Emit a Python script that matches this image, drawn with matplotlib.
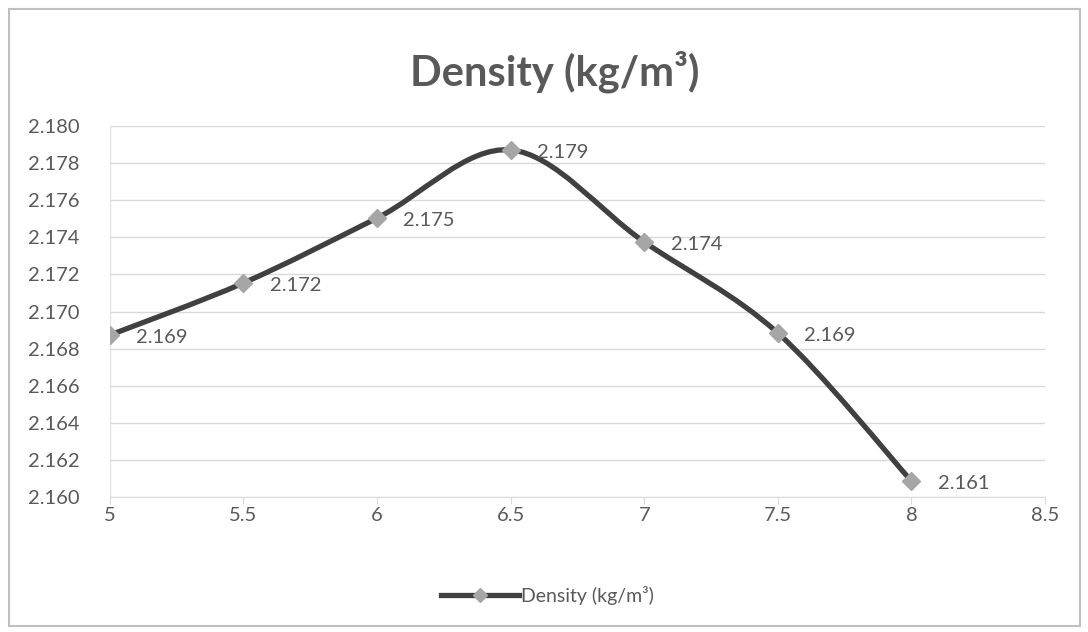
import numpy as np
import matplotlib.pyplot as plt
from matplotlib.path import Path
from matplotlib.patches import PathPatch, Rectangle
from matplotlib.lines import Line2D

### data
x_vals = [5, 5.5, 6, 6.5, 7, 7.5, 8]
density = [2.16873, 2.17154, 2.17504, 2.17871, 2.17375, 2.16884, 2.16086]
labels = ["2.169", "2.172", "2.175", "2.179", "2.174", "2.169", "2.161"]
y_ticks = [2.160, 2.162, 2.164, 2.166, 2.168, 2.170, 2.172, 2.174, 2.176, 2.178, 2.180]
x_ticks = [5, 5.5, 6, 6.5, 7, 7.5, 8, 8.5]

plt.rcParams['font.family'] = ['Lato', 'DejaVu Sans']
txt_col = '#595959'
line_col = '#404040'
mark_col = '#a6a6a6'

fig = plt.figure(figsize=(10.88, 6.32), dpi=100)
ax = fig.add_axes([0.101, 0.2136, 0.8595, 0.587])

### smoothed line (excel style bezier through the points)
pts = np.column_stack([x_vals, density])
verts = [pts[0]]
codes = [Path.MOVETO]
n = len(pts)
for i in range(n - 1):
    p0 = pts[i - 1] if i > 0 else pts[i]
    p1 = pts[i]
    p2 = pts[i + 1]
    p3 = pts[i + 2] if i + 2 < n else pts[i + 1]
    c1 = p1 + (p2 - p0) / 6.0
    c2 = p2 - (p3 - p1) / 6.0
    verts += [c1, c2, p2]
    codes += [Path.CURVE4] * 3
ax.add_patch(PathPatch(Path(verts, codes), facecolor='none', edgecolor=line_col,
                       lw=3.8, capstyle='round', zorder=3))
ax.plot(x_vals, density, ls='none', marker='D', ms=9, color=mark_col,
        mec=mark_col, zorder=4)

for xv, yv, lab in zip(x_vals, density, labels):
    ax.annotate(lab, (xv, yv), xytext=(19, -2), textcoords='offset points',
                ha='left', va='center', fontsize=14.5, color=txt_col, zorder=5)

ax.set_xlim(5, 8.5)
ax.set_ylim(2.160, 2.180)
ax.set_xticks(x_ticks)
ax.set_xticklabels([f"{v:g}" for v in x_ticks])
ax.set_yticks(y_ticks)
ax.set_yticklabels([f"{v:.3f}" for v in y_ticks])
ax.grid(True, axis='y', color='#d9d9d9', lw=1)
ax.axvline(5, color='#e3e3e3', lw=1, zorder=1)
for s in ['top', 'right', 'left']:
    ax.spines[s].set_visible(False)
ax.spines['bottom'].set_color('#d9d9d9')
ax.tick_params(axis='y', length=0, labelsize=14.5, labelcolor=txt_col, pad=22)
ax.tick_params(axis='x', length=5, color='#d9d9d9', labelsize=14.5,
               labelcolor=txt_col, pad=2)

fig.text(0.51, 0.887, "Density (kg/m³)", ha='center', va='center',
         fontsize=30, fontweight='bold', color=txt_col)

leg_handle = Line2D([], [], color=line_col, lw=3.8, marker='D', ms=7,
                    mfc=mark_col, mec=mark_col)
fig.legend([leg_handle], ["Density (kg/m³)"], loc='center',
           bbox_to_anchor=(0.503, 0.058), frameon=False, fontsize=14,
           labelcolor=txt_col, handlelength=4, handletextpad=0.1)

### outer chart border
fig.add_artist(Rectangle((0.008, 0.01), 0.985, 0.975, transform=fig.transFigure,
                         facecolor='none', edgecolor='#bfbfbf', lw=1.5))

fig.savefig("out.png", dpi=100)
